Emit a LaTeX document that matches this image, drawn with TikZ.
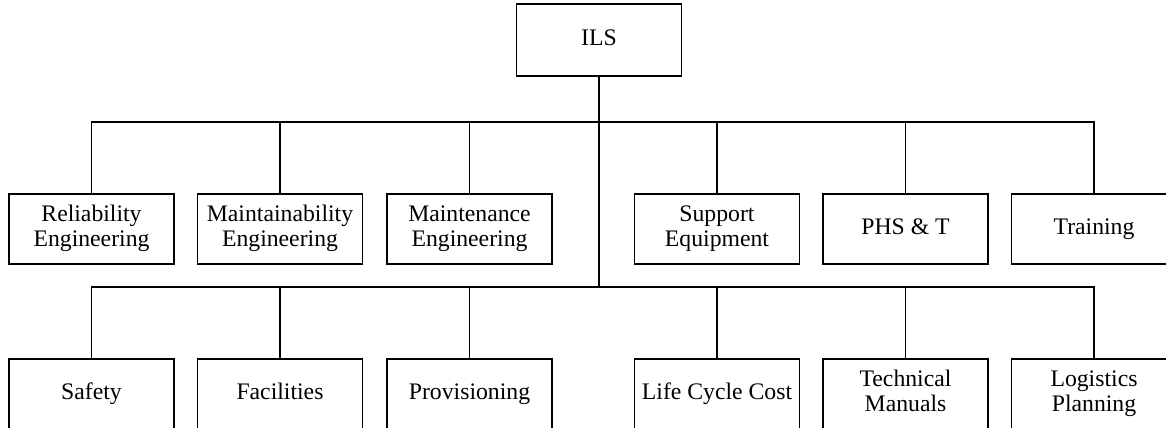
\documentclass[tikz,border=0pt]{standalone}
\usepackage{fontspec}
\setmainfont{Liberation Serif}

\begin{document}
\begin{tikzpicture}[x=0.02cm, y=-0.02cm, line width=1.1pt,
    box/.style={draw, rectangle, minimum width=3.3cm, minimum height=1.4cm,
      align=center, inner sep=0pt,
      font=\fontsize{13.5}{14.6}\selectfont}]

    \clip (0,0) rectangle (1166,427);
    \fill[white] (0,0) rectangle (1166,427);

    \node[box, minimum height=1.44cm] (ils) at (599,40) {\strut ILS};

    \coordinate (bus1) at (599,122);
    \coordinate (bus2) at (599,287);

    % first row
    \node[box] (rel) at (91.5,229) {\strut Reliability\\\strut Engineering};
    \node[box] (mtb) at (280,229) {\strut Maintainability\\\strut Engineering};
    \node[box] (mte) at (469.5,229) {\strut Maintenance\\\strut Engineering};
    \node[box] (sup) at (717,229) {\strut Support\\\strut Equipment};
    \node[box] (phs) at (905.5,229) {\strut PHS \& T};
    \node[box] (trn) at (1094,229) {\strut Training};

    % second row
    \node[box] (saf) at (91.5,394) {\strut Safety};
    \node[box] (fac) at (280,394) {\strut Facilities};
    \node[box] (pro) at (469.5,394) {\strut Provisioning};
    \node[box] (lcc) at (717,394) {\strut Life Cycle Cost};
    \node[box] (tec) at (905.5,394) {\strut Technical\\\strut Manuals};
    \node[box] (log) at (1094,394) {\strut Logistics\\\strut Planning};

    \draw (ils.south) -- (bus2);

    \foreach \n in {rel,mtb,mte,sup,phs,trn}
    \draw (bus1) -| (\n.north);

    \foreach \n in {saf,fac,pro,lcc,tec,log}
    \draw (bus2) -| (\n.north);

\end{tikzpicture}
\end{document}
